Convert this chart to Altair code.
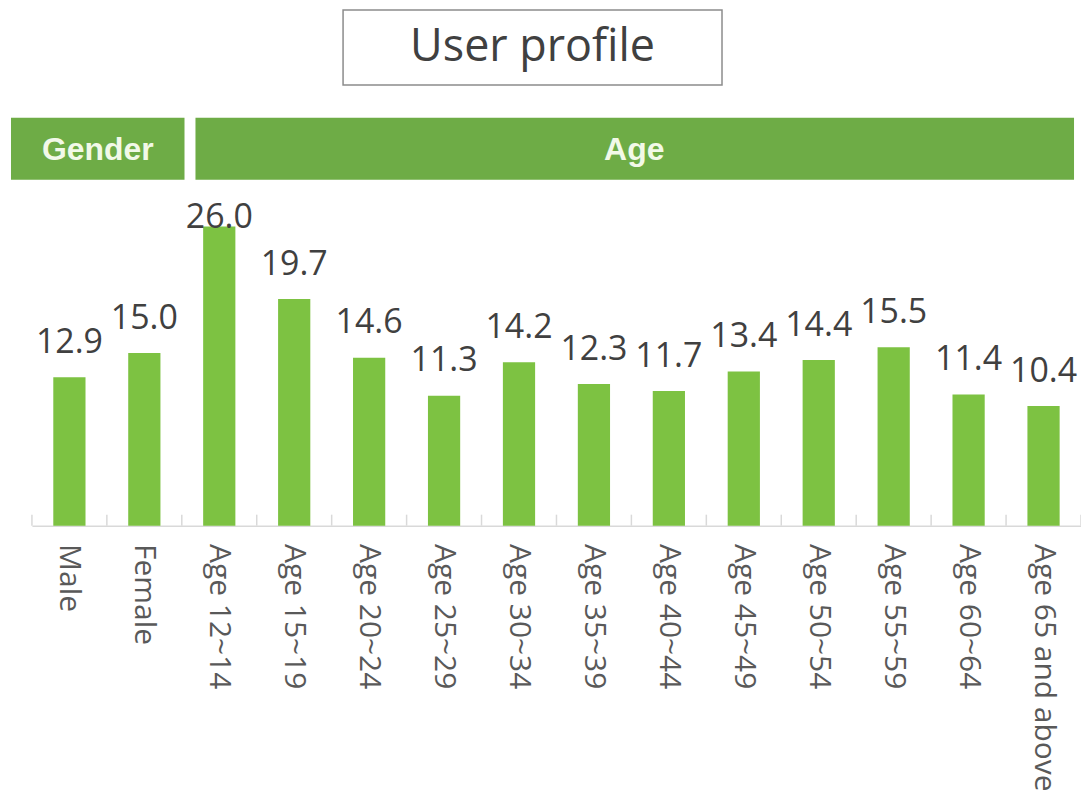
import altair as alt
import pandas as pd

categories = ["Male", "Female", "Age 12~14", "Age 15~19", "Age 20~24", "Age 25~29",
              "Age 30~34", "Age 35~39", "Age 40~44", "Age 45~49", "Age 50~54",
              "Age 55~59", "Age 60~64", "Age 65 and above"]
values = [12.9, 15.0, 26.0, 19.7, 14.6, 11.3, 14.2, 12.3, 11.7, 13.4, 14.4, 15.5, 11.4, 10.4]

df = pd.DataFrame({"category": categories, "value": values})

W, H = 1052, 518
FONT = "Open Sans"
BAR = "#7DC242"
HEAD = "#6EAC46"

xenc = alt.X("category:N", sort=categories,
             scale=alt.Scale(paddingInner=0, paddingOuter=0),
             axis=alt.Axis(title=None, labelAngle=90, labelAlign="left", labelBaseline="middle",
                           labelFont=FONT, labelFontSize=30, labelColor="#595959",
                           labelPadding=18, ticks=False, domainColor="#D9D9D9",
                           domainWidth=1.5, grid=False, labelLimit=400))
yscale = alt.Scale(domain=[0, 44.89], nice=False, zero=True)

base = alt.Chart(df)

bars = base.mark_bar(color=BAR, width=alt.RelativeBandSize(0.43)).encode(
    x=xenc,
    y=alt.Y("value:Q", scale=yscale, axis=None),
)

labels = base.transform_calculate(
    ly="min(datum.value + 2.1, 25.9)"
).mark_text(font=FONT, fontSize=34, color="#404040", baseline="alphabetic").encode(
    x=alt.X("category:N", sort=categories),
    y=alt.Y("ly:Q", scale=yscale),
    text=alt.Text("value:Q", format=".1f"),
)

ticks_l = base.mark_rule(color="#D9D9D9", strokeWidth=1.5).encode(
    x=alt.X("category:N", sort=categories, bandPosition=0),
    y=alt.value(H - 11), y2=alt.value(H),
)
ticks_r = base.transform_filter(
    alt.datum.category == categories[-1]
).mark_rule(color="#D9D9D9", strokeWidth=1.5).encode(
    x=alt.X("category:N", sort=categories, bandPosition=1),
    y=alt.value(H - 11), y2=alt.value(H),
)

one = alt.Chart(pd.DataFrame({"a": [0]}))

title_box = one.mark_rect(fill="white", stroke="#8C8C8C", strokeWidth=1.5).encode(
    x=alt.value(312), x2=alt.value(692), y=alt.value(1), y2=alt.value(76))
title_txt = one.mark_text(text="User profile", font=FONT, fontSize=45, color="#404040",
                          align="center", baseline="middle").encode(
    x=alt.value(502), y=alt.value(38))

g_box = one.mark_rect(fill=HEAD).encode(
    x=alt.value(-21), x2=alt.value(153), y=alt.value(109), y2=alt.value(171))
a_box = one.mark_rect(fill=HEAD).encode(
    x=alt.value(164), x2=alt.value(1045), y=alt.value(109), y2=alt.value(171))
g_txt = one.mark_text(text="Gender", font="Liberation Sans", fontWeight="bold", fontSize=32,
                      color="#F2F9E8", align="center", baseline="middle").encode(
    x=alt.value(66), y=alt.value(141))
a_txt = one.mark_text(text="Age", font="Liberation Sans", fontWeight="bold", fontSize=32,
                      color="#F2F9E8", align="center", baseline="middle").encode(
    x=alt.value(604), y=alt.value(141))

chart = alt.layer(
    bars, ticks_l, ticks_r, labels, title_box, title_txt, g_box, a_box, g_txt, a_txt
).properties(
    width=W, height=H,
    autosize=alt.AutoSizeParams(type="none"),
    padding={"left": 24, "top": 0, "right": 0, "bottom": 276},
).configure(background="white").configure_view(stroke=None, strokeWidth=0)

chart.save("out.html", embed_options={"renderer": "svg", "actions": False})
